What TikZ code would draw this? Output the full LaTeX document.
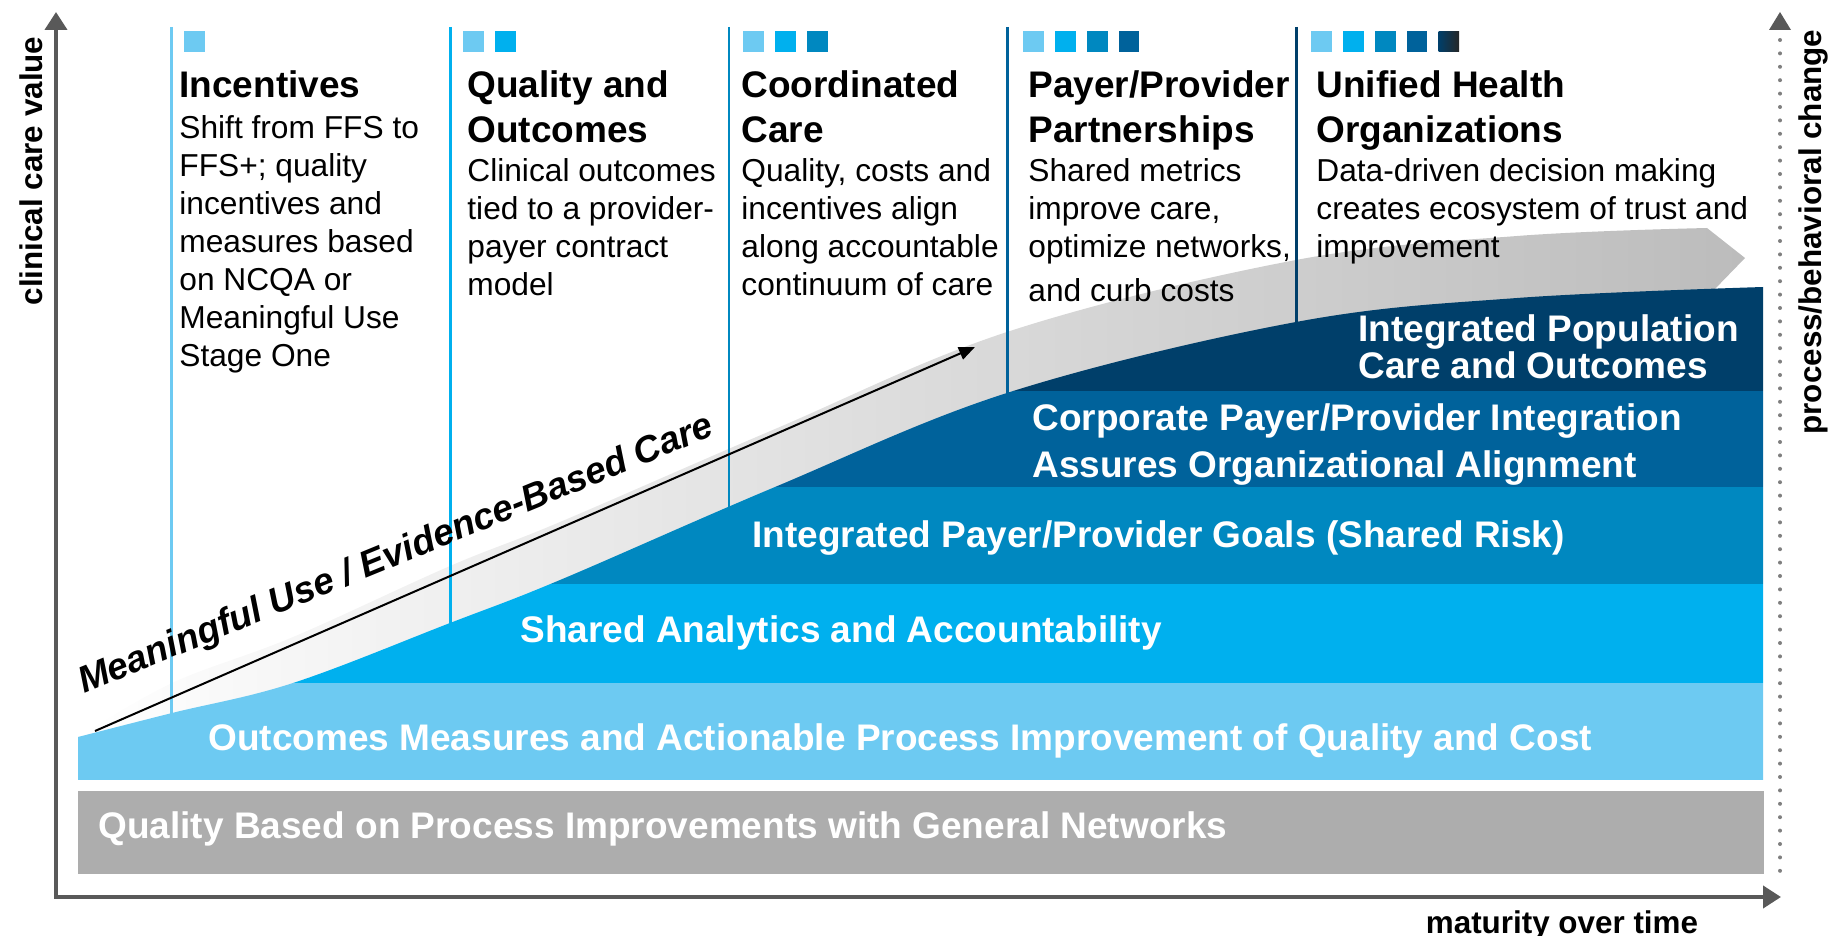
\documentclass[tikz,border=0pt]{standalone}
\usepackage{fontspec}
\setmainfont{Liberation Sans}
\usetikzlibrary{arrows.meta}
\definecolor{cLight}{HTML}{6DCAF2}
\definecolor{cCyan}{HTML}{00B0EE}
\definecolor{cMid}{HTML}{0088C0}
\definecolor{cDark}{HTML}{00629B}
\definecolor{cNavy}{HTML}{003F6A}
\definecolor{cGrayBand}{HTML}{ADADAD}
\definecolor{cAxis}{HTML}{595959}
\definecolor{cDots}{HTML}{7F7F7F}
\definecolor{cSwooshMid}{HTML}{DCDCDC}
\definecolor{cSwooshEnd}{HTML}{BCBCBC}
\begin{document}
\begin{tikzpicture}[x=0.5pt,y=-0.5pt,
  headtxt/.style={anchor=base west, inner sep=0pt, font=\fontsize{18.5}{22}\selectfont\bfseries},
  bodytxt/.style={anchor=base west, inner sep=0pt, font=\fontsize{15.85}{19}\selectfont},
  bandtxt/.style={anchor=base west, inner sep=0pt, text=white, font=\fontsize{18.5}{22}\selectfont\bfseries},
  axtxt/.style={anchor=base, inner sep=0pt, font=\fontsize{15.7}{19}\selectfont\bfseries},
  mutxt/.style={anchor=base west, inner sep=0pt, rotate=22.3, font=\fontsize{18.5}{22}\selectfont\bfseries\itshape},
  colline/.style={line width=1.2pt},
  axisline/.style={line width=2pt, draw=cAxis},
  dotline/.style={line width=2pt, draw=cDots, line cap=round, dash pattern=on 0pt off 6.7pt},
  sq/.style={inner sep=0pt, minimum size=10.3pt, anchor=north west}
]
\useasboundingbox (0,0) rectangle (1831,936);

% ---- swoosh (gray arrow band) ----
\shade[left color=white, right color=cSwooshEnd, middle color=cSwooshMid]
  plot[smooth, tension=0.6] coordinates {(78,737) (172,683) (293,637) (450,566) (560,522) (775,429) (1010,331) (1296,260) (1517,236) (1707,228)}
  -- (1745,258) -- (1712,292) -- (1712,420) -- (78,772) -- cycle;

% ---- column separator lines ----
\draw[colline, cLight] (171.6,27) -- (171.6,760);
\draw[colline, cCyan]  (450.3,27) -- (450.3,760);
\draw[colline, cMid]   (729,27) -- (729,760);
\draw[colline, cDark]  (1007.5,27) -- (1007.5,760);
\draw[colline, cNavy]  (1296.5,27) -- (1296.5,760);

% ---- stepped blue area under the envelope ----
\begin{scope}
\clip (78,780) -- (78,737) -- plot[smooth, tension=0.6] coordinates {(78,737) (172,713) (293,683) (450,623) (560,580) (775,487) (1010,392) (1296,322) (1517,298) (1763,287)} -- (1763,780) -- cycle;
\fill[cLight] (0,683) rectangle (1831,780);
\fill[cCyan]  (0,584) rectangle (1831,683);
\fill[cMid]   (0,487) rectangle (1831,584);
\fill[cDark]  (0,391) rectangle (1831,487);
\fill[cNavy]  (0,200) rectangle (1831,391);
\end{scope}
\fill[cGrayBand] (78,791) rectangle (1764,874);

% ---- band labels ----
\node[bandtxt] (lblGray)   at (98,838)   {Quality Based on Process Improvements with General Networks};
\node[bandtxt] (lblOut)    at (208,750)  {Outcomes Measures and Actionable Process Improvement of Quality and Cost};
\node[bandtxt] (lblShared) at (520,642)  {Shared Analytics and Accountability};
\node[bandtxt] (lblGoals)  at (752,547)  {Integrated Payer/Provider Goals (Shared Risk)};
\node[bandtxt] (lblCorpA)  at (1032,430) {Corporate Payer/Provider Integration};
\node[bandtxt] (lblCorpB)  at (1032,477) {Assures Organizational Alignment};
\node[bandtxt] (lblPopA)   at (1358,342) {Integrated Population};
\node[bandtxt] (lblPopB)   at (1358,378) {Care and Outcomes};

% ---- Meaningful use arrow ----
\coordinate (muStart) at (95,731);
\coordinate (muEnd) at (975,347);
\draw[line width=1pt, -{Triangle[length=8pt,width=6.5pt]}] (muStart) -- (muEnd);
\node[mutxt] (muLabel) at (84,694) {Meaningful Use / Evidence-Based Care};

% ---- column 1 ----
\node[headtxt] (h1a) at (179,98) {Incentives};
\node[bodytxt] (b1a) at (179,138.3) {Shift from FFS to};
\node[bodytxt] (b1b) at (179,176.4) {FFS+; quality};
\node[bodytxt] (b1c) at (179,214.5) {incentives and};
\node[bodytxt] (b1d) at (179,252.6) {measures based};
\node[bodytxt] (b1e) at (179,290.7) {on NCQA or};
\node[bodytxt] (b1f) at (179,328.8) {Meaningful Use};
\node[bodytxt] (b1g) at (179,366.9) {Stage One};
% ---- column 2 ----
\node[headtxt] (h2a) at (467,98) {Quality and};
\node[headtxt] (h2b) at (467,143) {Outcomes};
\node[bodytxt] (b2a) at (467,181.7) {Clinical outcomes};
\node[bodytxt] (b2b) at (467,219.8) {tied to a provider-};
\node[bodytxt] (b2c) at (467,257.9) {payer contract};
\node[bodytxt] (b2d) at (467,296) {model};
% ---- column 3 ----
\node[headtxt] (h3a) at (741,98) {Coordinated};
\node[headtxt] (h3b) at (741,143) {Care};
\node[bodytxt] (b3a) at (741,181.7) {Quality, costs and};
\node[bodytxt] (b3b) at (741,219.8) {incentives align};
\node[bodytxt] (b3c) at (741,257.9) {along accountable};
\node[bodytxt] (b3d) at (741,296) {continuum of care};
% ---- column 4 ----
\node[headtxt] (h4a) at (1028,98) {Payer/Provider};
\node[headtxt] (h4b) at (1028,143) {Partnerships};
\node[bodytxt] (b4a) at (1028,181.7) {Shared metrics};
\node[bodytxt] (b4b) at (1028,219.8) {improve care,};
\node[bodytxt] (b4c) at (1028,257.9) {optimize networks,};
\node[bodytxt] (b4d) at (1028,301.7) {and curb costs};
% ---- column 5 ----
\node[headtxt] (h5a) at (1316,98) {Unified Health};
\node[headtxt] (h5b) at (1316,143) {Organizations};
\node[bodytxt] (b5a) at (1316,181.7) {Data-driven decision making};
\node[bodytxt] (b5b) at (1316,219.8) {creates ecosystem of trust and};
\node[bodytxt] (b5c) at (1316,257.9) {improvement};

% ---- squares ----
\node[sq, fill=cLight] (s11) at (184,30.7) {};
\node[sq, fill=cLight] (s21) at (463,30.7) {};
\node[sq, fill=cCyan]  (s22) at (494.8,30.7) {};
\node[sq, fill=cLight] (s31) at (743,30.7) {};
\node[sq, fill=cCyan]  (s32) at (774.8,30.7) {};
\node[sq, fill=cMid]   (s33) at (806.6,30.7) {};
\node[sq, fill=cLight] (s41) at (1023,30.7) {};
\node[sq, fill=cCyan]  (s42) at (1054.8,30.7) {};
\node[sq, fill=cMid]   (s43) at (1086.6,30.7) {};
\node[sq, fill=cDark]  (s44) at (1118.4,30.7) {};
\node[sq, fill=cLight] (s51) at (1311,30.7) {};
\node[sq, fill=cCyan]  (s52) at (1342.8,30.7) {};
\node[sq, fill=cMid]   (s53) at (1374.6,30.7) {};
\node[sq, fill=cDark]  (s54) at (1406.4,30.7) {};
\node[sq, left color=cNavy, right color=black!85] (s55) at (1438.2,30.7) {};

% ---- axes ----
\coordinate (yTop) at (56,12);
\coordinate (origin) at (56,897);
\coordinate (xEnd) at (1781,897);
\draw[axisline, {Triangle[length=9pt,width=11pt]}-{Triangle[length=9pt,width=11pt]}] (yTop) -- (origin) -- (xEnd);
\coordinate (rTop) at (1780,12);
\coordinate (rBot) at (1780,873);
\draw[dotline] (1780,40) -- (rBot);
\fill[cAxis] (rTop) -- ++(-11,18) -- ++(22,0) -- cycle;

\node[axtxt, rotate=90] (yLabel) at (42,171) {clinical care value};
\node[axtxt, rotate=90] (rLabel) at (1821,232) {process/behavioral change};
\node[axtxt] (xLabel) at (1562,933) {maturity over time};
\end{tikzpicture}
\end{document}
